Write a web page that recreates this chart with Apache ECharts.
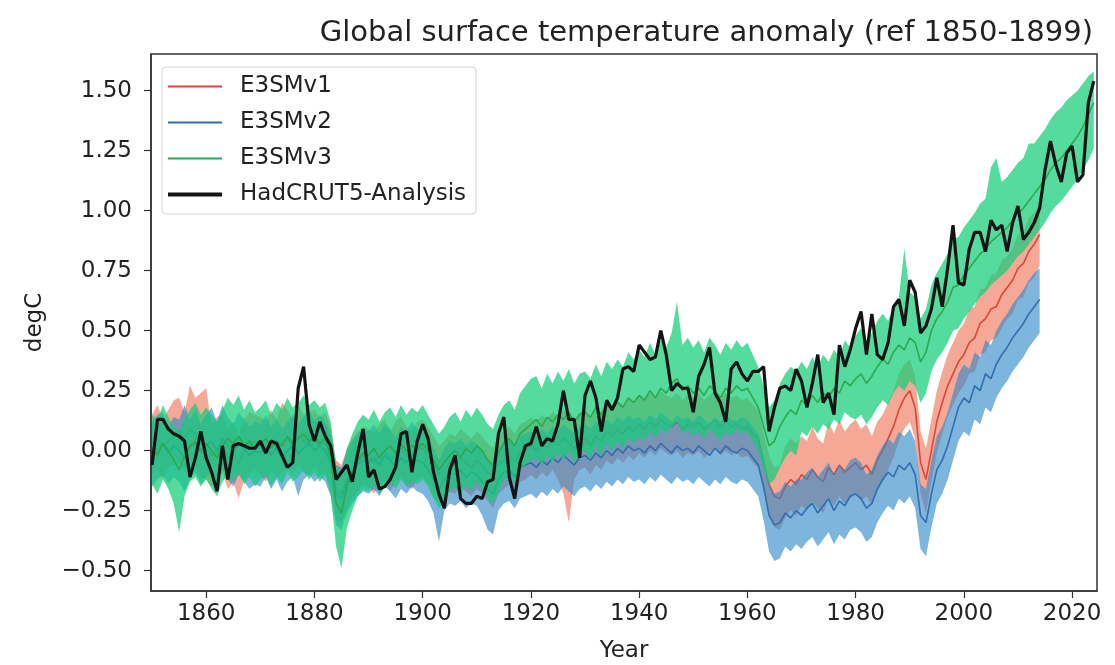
<!DOCTYPE html>
<html>
<head>
<meta charset="utf-8">
<title>Global surface temperature anomaly</title>
<script src="https://cdn.jsdelivr.net/npm/echarts@6/dist/echarts.min.js"></script>
<style>
  html, body { margin: 0; padding: 0; background: #fff; }
  #chart { width: 1115px; height: 665px; }
</style>
</head>
<body>
<div id="chart"></div>
<script>
// Annual global-mean surface temperature anomalies (degC, relative to 1850-1899).
const FIRST_YEAR = 1850;

// HadCRUT5-Analysis, 1850-2024
const hadcrut5 = [
  -0.06, 0.13, 0.13, 0.09, 0.07, 0.06, 0.04, -0.11, -0.03, 0.08,
  -0.03, -0.09, -0.17, 0.02, -0.12, 0.02, 0.03, 0.02, 0.01, 0.01,
  0.04, -0.01, 0.04, 0.03, -0.02, -0.07, -0.05, 0.26, 0.35, 0.11,
  0.04, 0.12, 0.06, 0.02, -0.12, -0.09, -0.06, -0.13, -0.01, 0.09,
  -0.11, -0.08, -0.16, -0.15, -0.12, -0.07, 0.07, 0.08, -0.09, 0.04,
  0.11, 0.05, -0.09, -0.18, -0.24, -0.08, -0.02, -0.20, -0.22, -0.22,
  -0.19, -0.20, -0.13, -0.12, 0.07, 0.14, -0.11, -0.20, -0.05, 0.02,
  0.03, 0.10, 0.02, 0.05, 0.04, 0.11, 0.25, 0.13, 0.13, -0.03,
  0.23, 0.29, 0.22, 0.08, 0.21, 0.17, 0.22, 0.34, 0.35, 0.33,
  0.44, 0.41, 0.38, 0.39, 0.50, 0.40, 0.25, 0.28, 0.26, 0.26,
  0.16, 0.31, 0.36, 0.43, 0.24, 0.20, 0.12, 0.34, 0.37, 0.32,
  0.29, 0.33, 0.33, 0.35, 0.08, 0.18, 0.26, 0.27, 0.25, 0.34,
  0.29, 0.18, 0.28, 0.40, 0.20, 0.24, 0.15, 0.44, 0.35, 0.42,
  0.51, 0.58, 0.40, 0.57, 0.40, 0.38, 0.45, 0.60, 0.63, 0.52,
  0.71, 0.66, 0.49, 0.52, 0.59, 0.72, 0.60, 0.76, 0.94, 0.70,
  0.69, 0.84, 0.91, 0.91, 0.83, 0.96, 0.92, 0.94, 0.83, 0.95,
  1.02, 0.88, 0.91, 0.95, 1.01, 1.17, 1.29, 1.19, 1.12, 1.24,
  1.27, 1.12, 1.15, 1.45, 1.54
];

// E3SMv1 ensemble mean and range, 1850-2014
const v1Mean = [
  0.03, 0.05, 0.02, 0.04, 0.06, 0.08, 0.05, 0.09, 0.07, 0.03,
  0.01, -0.02, 0.00, 0.03, -0.03, -0.01, -0.06, 0.00, 0.02, 0.04,
  0.02, 0.00, 0.04, 0.01, 0.03, 0.05, 0.02, 0.06, 0.04, 0.03,
  0.05, 0.02, 0.04, -0.02, -0.16, -0.18, -0.12, -0.08, -0.05, -0.02,
  -0.03, -0.05, -0.02, 0.00, -0.04, -0.01, 0.01, -0.02, -0.04, 0.00,
  0.01, -0.02, -0.06, -0.10, -0.08, -0.05, -0.06, -0.03, -0.05, -0.07,
  -0.04, -0.06, -0.09, -0.11, -0.06, -0.04, -0.02, -0.05, -0.01, 0.00,
  0.02, 0.00, 0.03, 0.01, 0.04, 0.02, 0.05, 0.03, 0.01, 0.04,
  0.05, 0.02, 0.06, 0.04, 0.08, 0.06, 0.09, 0.07, 0.10, 0.08,
  0.11, 0.09, 0.12, 0.10, 0.13, 0.11, 0.10, 0.12, 0.09, 0.11,
  0.10, 0.12, 0.09, 0.11, 0.13, 0.10, 0.12, 0.10, 0.11, 0.09,
  0.10, 0.07, 0.05, -0.05, -0.14, -0.19, -0.20, -0.15, -0.12, -0.14,
  -0.10, -0.12, -0.08, -0.11, -0.13, -0.07, -0.10, -0.06, -0.09, -0.07,
  -0.05, -0.08, -0.06, -0.10, -0.04, 0.00, 0.05, 0.10, 0.17, 0.22,
  0.25, 0.18, -0.05, -0.12, 0.00, 0.12, 0.20, 0.27, 0.32, 0.37,
  0.40, 0.45, 0.47, 0.53, 0.55, 0.59, 0.60, 0.65, 0.68, 0.71,
  0.76, 0.78, 0.83, 0.86, 0.90
];
const v1Lo = [
  -0.10, -0.08, -0.12, -0.07, -0.06, -0.05, -0.09, -0.04, -0.07, -0.11,
  -0.12, -0.15, -0.13, -0.09, -0.16, -0.13, -0.20, -0.12, -0.10, -0.08,
  -0.10, -0.13, -0.08, -0.11, -0.09, -0.07, -0.10, -0.06, -0.09, -0.10,
  -0.07, -0.10, -0.09, -0.14, -0.29, -0.30, -0.24, -0.20, -0.17, -0.14,
  -0.15, -0.18, -0.14, -0.12, -0.17, -0.13, -0.11, -0.15, -0.16, -0.12,
  -0.11, -0.14, -0.19, -0.22, -0.20, -0.17, -0.18, -0.15, -0.17, -0.19,
  -0.16, -0.18, -0.21, -0.24, -0.18, -0.16, -0.14, -0.17, -0.13, -0.12,
  -0.10, -0.12, -0.09, -0.11, -0.08, -0.12, -0.18, -0.30, -0.12, -0.08,
  -0.07, -0.10, -0.06, -0.08, -0.04, -0.06, -0.03, -0.05, -0.02, -0.04,
  -0.01, -0.03, 0.00, -0.02, 0.01, -0.01, -0.02, 0.00, -0.03, -0.01,
  -0.02, 0.00, -0.03, -0.01, 0.01, -0.02, 0.00, -0.02, -0.01, -0.03,
  -0.02, -0.05, -0.07, -0.17, -0.27, -0.32, -0.33, -0.28, -0.25, -0.27,
  -0.23, -0.25, -0.21, -0.24, -0.26, -0.20, -0.23, -0.19, -0.22, -0.20,
  -0.18, -0.21, -0.19, -0.23, -0.17, -0.13, -0.08, -0.03, 0.04, 0.09,
  0.12, 0.05, -0.18, -0.26, -0.13, -0.01, 0.07, 0.14, 0.19, 0.24,
  0.27, 0.32, 0.33, 0.40, 0.41, 0.46, 0.47, 0.51, 0.55, 0.57,
  0.63, 0.64, 0.70, 0.72, 0.77
];
const v1Hi = [
  0.15, 0.19, 0.13, 0.17, 0.21, 0.22, 0.16, 0.27, 0.22, 0.24,
  0.26, 0.10, 0.14, 0.15, 0.09, 0.12, 0.06, 0.13, 0.16, 0.15,
  0.14, 0.12, 0.17, 0.13, 0.20, 0.17, 0.13, 0.19, 0.15, 0.16,
  0.17, 0.14, 0.16, 0.10, -0.04, -0.06, 0.01, 0.05, 0.08, 0.10,
  0.09, 0.07, 0.11, 0.13, 0.08, 0.12, 0.14, 0.10, 0.08, 0.12,
  0.13, 0.10, 0.06, 0.02, 0.04, 0.07, 0.06, 0.09, 0.07, 0.05,
  0.08, 0.06, 0.03, 0.01, 0.06, 0.08, 0.10, 0.07, 0.11, 0.12,
  0.14, 0.12, 0.15, 0.13, 0.16, 0.14, 0.17, 0.15, 0.13, 0.16,
  0.17, 0.14, 0.18, 0.16, 0.20, 0.18, 0.21, 0.19, 0.22, 0.20,
  0.23, 0.21, 0.24, 0.22, 0.25, 0.23, 0.22, 0.24, 0.21, 0.23,
  0.22, 0.24, 0.21, 0.23, 0.25, 0.22, 0.24, 0.22, 0.23, 0.21,
  0.22, 0.19, 0.17, 0.07, -0.02, -0.07, -0.06, 0.02, 0.05, 0.03,
  0.06, 0.04, 0.10, 0.05, 0.03, 0.12, 0.07, 0.13, 0.08, 0.11,
  0.13, 0.09, 0.11, 0.06, 0.12, 0.15, 0.20, 0.25, 0.32, 0.36,
  0.38, 0.31, 0.08, 0.01, 0.13, 0.25, 0.33, 0.40, 0.45, 0.50,
  0.53, 0.59, 0.60, 0.67, 0.68, 0.73, 0.74, 0.79, 0.81, 0.84,
  0.90, 0.91, 0.97, 0.99, 1.03
];

// E3SMv2 ensemble mean and range, 1850-2014
const v2Mean = [
  -0.02, 0.00, 0.03, -0.01, 0.02, 0.00, -0.03, 0.01, 0.03, -0.01,
  0.02, 0.04, 0.00, 0.05, 0.02, -0.01, 0.03, 0.01, -0.02, 0.00,
  -0.01, 0.02, -0.02, 0.01, -0.03, 0.00, 0.02, -0.01, 0.01, 0.03,
  0.00, 0.02, 0.00, -0.05, -0.18, -0.20, -0.13, -0.09, -0.06, -0.04,
  -0.05, -0.03, -0.06, -0.02, -0.04, -0.07, -0.03, -0.05, -0.02, -0.04,
  -0.05, -0.08, -0.12, -0.16, -0.12, -0.09, -0.10, -0.08, -0.11, -0.09,
  -0.10, -0.13, -0.16, -0.18, -0.12, -0.09, -0.08, -0.11, -0.07, -0.06,
  -0.05, -0.07, -0.04, -0.06, -0.03, -0.05, -0.02, -0.04, -0.06, -0.03,
  -0.02, -0.04, -0.01, -0.03, 0.00, -0.02, 0.01, -0.01, 0.02, 0.00,
  0.01, -0.01, 0.02, 0.00, 0.03, 0.01, -0.01, 0.02, 0.00, 0.01,
  -0.01, 0.02, 0.00, -0.02, 0.01, -0.01, 0.02, 0.00, -0.01, 0.01,
  0.00, -0.03, -0.06, -0.15, -0.27, -0.31, -0.30, -0.26, -0.28, -0.25,
  -0.27, -0.24, -0.22, -0.26, -0.23, -0.20, -0.25, -0.21, -0.23, -0.19,
  -0.18, -0.20, -0.24, -0.22, -0.16, -0.12, -0.09, -0.11, -0.06, -0.08,
  -0.05, -0.10, -0.27, -0.30, -0.18, -0.08, -0.04, 0.02, 0.10, 0.18,
  0.22, 0.20, 0.27, 0.25, 0.32, 0.30, 0.36, 0.40, 0.43, 0.47,
  0.50, 0.53, 0.57, 0.60, 0.63
];
const v2Lo = [
  -0.15, -0.12, -0.10, -0.14, -0.11, -0.13, -0.17, -0.12, -0.09, -0.14,
  -0.11, -0.09, -0.14, -0.08, -0.12, -0.15, -0.10, -0.13, -0.16, -0.14,
  -0.15, -0.11, -0.16, -0.12, -0.17, -0.13, -0.11, -0.19, -0.12, -0.10,
  -0.13, -0.11, -0.13, -0.19, -0.31, -0.33, -0.26, -0.22, -0.19, -0.17,
  -0.18, -0.16, -0.19, -0.15, -0.17, -0.20, -0.16, -0.18, -0.15, -0.17,
  -0.18, -0.21, -0.26, -0.38, -0.25, -0.22, -0.23, -0.21, -0.24, -0.22,
  -0.23, -0.27, -0.33, -0.35, -0.25, -0.22, -0.21, -0.24, -0.20, -0.19,
  -0.18, -0.20, -0.17, -0.19, -0.16, -0.18, -0.15, -0.17, -0.19, -0.16,
  -0.15, -0.17, -0.14, -0.16, -0.13, -0.15, -0.12, -0.14, -0.11, -0.13,
  -0.12, -0.14, -0.11, -0.13, -0.10, -0.12, -0.14, -0.11, -0.13, -0.12,
  -0.14, -0.11, -0.13, -0.15, -0.12, -0.14, -0.11, -0.13, -0.14, -0.12,
  -0.13, -0.16, -0.19, -0.29, -0.42, -0.46, -0.45, -0.40, -0.42, -0.39,
  -0.41, -0.38, -0.36, -0.40, -0.37, -0.34, -0.39, -0.35, -0.37, -0.33,
  -0.32, -0.34, -0.38, -0.36, -0.30, -0.26, -0.23, -0.25, -0.20, -0.22,
  -0.19, -0.24, -0.41, -0.44, -0.32, -0.22, -0.18, -0.12, -0.04, 0.04,
  0.08, 0.06, 0.13, 0.11, 0.18, 0.16, 0.22, 0.26, 0.29, 0.33,
  0.36, 0.39, 0.43, 0.46, 0.49
];
const v2Hi = [
  0.12, 0.15, 0.16, 0.10, 0.14, 0.13, 0.19, 0.13, 0.17, 0.11,
  0.15, 0.18, 0.12, 0.19, 0.14, 0.11, 0.16, 0.13, 0.10, 0.12,
  0.11, 0.15, 0.10, 0.13, 0.09, 0.12, 0.15, 0.11, 0.14, 0.17,
  0.12, 0.15, 0.12, 0.07, -0.06, -0.07, 0.00, 0.04, 0.07, 0.09,
  0.08, 0.11, 0.07, 0.11, 0.09, 0.05, 0.10, 0.08, 0.12, 0.09,
  0.08, 0.05, 0.01, -0.04, 0.01, 0.04, 0.03, 0.05, 0.02, 0.04,
  0.03, 0.00, -0.04, -0.06, 0.01, 0.04, 0.05, 0.02, 0.06, 0.07,
  0.08, 0.06, 0.09, 0.07, 0.10, 0.08, 0.11, 0.09, 0.07, 0.10,
  0.11, 0.09, 0.12, 0.10, 0.13, 0.11, 0.14, 0.12, 0.15, 0.13,
  0.14, 0.12, 0.15, 0.13, 0.16, 0.14, 0.12, 0.15, 0.13, 0.14,
  0.12, 0.15, 0.13, 0.11, 0.14, 0.12, 0.15, 0.13, 0.12, 0.14,
  0.13, 0.10, 0.07, -0.02, -0.14, -0.18, -0.17, -0.13, -0.15, -0.12,
  -0.12, -0.09, -0.07, -0.11, -0.08, -0.05, -0.10, -0.06, -0.08, -0.04,
  -0.03, -0.05, -0.10, -0.08, -0.02, 0.02, 0.05, 0.03, 0.08, 0.06,
  0.09, 0.04, -0.14, -0.16, -0.04, 0.06, 0.10, 0.16, 0.24, 0.32,
  0.36, 0.34, 0.41, 0.39, 0.46, 0.44, 0.50, 0.54, 0.57, 0.61,
  0.64, 0.67, 0.71, 0.74, 0.76
];

// E3SMv3 ensemble mean and range, 1850-2024
const v3Mean = [
  0.01, -0.02, 0.03, 0.00, -0.04, -0.08, -0.02, 0.02, 0.04, 0.00,
  0.03, 0.00, -0.03, 0.02, 0.05, 0.03, 0.06, 0.02, 0.04, 0.01,
  0.03, 0.05, 0.01, 0.04, 0.02, 0.06, 0.03, 0.05, 0.07, 0.04,
  0.06, 0.03, 0.05, -0.03, -0.22, -0.26, -0.15, -0.09, -0.04, -0.01,
  -0.02, 0.01, -0.03, 0.00, 0.02, -0.01, 0.03, 0.00, 0.02, 0.01,
  0.03, 0.00, -0.04, -0.08, -0.05, -0.02, 0.00, -0.03, 0.01, -0.01,
  0.02, 0.00, -0.04, -0.06, -0.01, 0.03, 0.05, 0.02, 0.07, 0.09,
  0.11, 0.13, 0.10, 0.14, 0.12, 0.15, 0.13, 0.16, 0.12, 0.15,
  0.16, 0.14, 0.18, 0.15, 0.19, 0.17, 0.20, 0.18, 0.22, 0.20,
  0.23, 0.21, 0.25, 0.22, 0.26, 0.24, 0.28, 0.30, 0.25, 0.27,
  0.24, 0.26, 0.23, 0.27, 0.25, 0.22, 0.26, 0.24, 0.27, 0.25,
  0.26, 0.22, 0.18, 0.10, 0.02, 0.04, 0.10, 0.14, 0.17, 0.15,
  0.21, 0.19, 0.23, 0.20, 0.24, 0.22, 0.26, 0.24, 0.29, 0.27,
  0.30, 0.32, 0.28, 0.31, 0.35, 0.38, 0.36, 0.41, 0.44, 0.42,
  0.47, 0.45, 0.37, 0.41, 0.50, 0.55, 0.58, 0.62, 0.68, 0.69,
  0.73, 0.76, 0.79, 0.82, 0.84, 0.87, 0.89, 0.91, 0.93, 0.96,
  0.99, 1.01, 1.04, 1.07, 1.10, 1.13, 1.17, 1.20, 1.22, 1.25,
  1.28, 1.31, 1.35, 1.40, 1.45
];
const v3Lo = [
  -0.14, -0.18, -0.12, -0.16, -0.22, -0.34, -0.19, -0.13, -0.11, -0.15,
  -0.12, -0.16, -0.19, -0.13, -0.10, -0.13, -0.09, -0.14, -0.11, -0.15,
  -0.12, -0.10, -0.15, -0.11, -0.14, -0.09, -0.13, -0.11, -0.08, -0.12,
  -0.09, -0.13, -0.10, -0.18, -0.40, -0.49, -0.32, -0.25, -0.19, -0.16,
  -0.17, -0.14, -0.18, -0.15, -0.13, -0.16, -0.12, -0.15, -0.13, -0.14,
  -0.12, -0.15, -0.20, -0.24, -0.21, -0.17, -0.15, -0.19, -0.14, -0.17,
  -0.13, -0.16, -0.20, -0.22, -0.17, -0.12, -0.10, -0.14, -0.08, -0.06,
  -0.04, -0.03, -0.06, -0.02, -0.05, -0.01, -0.04, 0.00, -0.05, -0.01,
  0.00, -0.03, 0.02, -0.02, 0.03, 0.00, 0.04, 0.01, 0.05, 0.03,
  0.06, 0.04, 0.08, 0.05, 0.09, 0.07, 0.10, 0.12, 0.07, 0.09,
  0.06, 0.08, 0.05, 0.09, 0.07, 0.04, 0.08, 0.06, 0.09, 0.07,
  0.08, 0.04, 0.00, -0.08, -0.14, -0.12, -0.07, -0.03, 0.00, -0.02,
  0.08, 0.06, 0.10, 0.07, 0.11, 0.09, 0.13, 0.11, 0.16, 0.14,
  0.13, 0.15, 0.11, 0.14, 0.18, 0.21, 0.19, 0.24, 0.27, 0.25,
  0.29, 0.27, 0.20, 0.24, 0.33, 0.38, 0.41, 0.45, 0.50, 0.51,
  0.55, 0.58, 0.61, 0.64, 0.66, 0.69, 0.71, 0.73, 0.75, 0.78,
  0.81, 0.83, 0.86, 0.89, 0.92, 0.95, 0.99, 1.02, 1.04, 1.07,
  1.10, 1.13, 1.17, 1.21, 1.26
];
const v3Hi = [
  0.15, 0.13, 0.19, 0.14, 0.10, 0.08, 0.13, 0.17, 0.20, 0.15,
  0.18, 0.15, 0.12, 0.17, 0.22, 0.19, 0.23, 0.17, 0.21, 0.16,
  0.18, 0.21, 0.15, 0.20, 0.17, 0.22, 0.18, 0.20, 0.23, 0.19,
  0.21, 0.18, 0.20, 0.12, -0.06, -0.10, 0.01, 0.07, 0.12, 0.15,
  0.13, 0.17, 0.12, 0.16, 0.18, 0.14, 0.19, 0.15, 0.18, 0.16,
  0.19, 0.15, 0.11, 0.07, 0.10, 0.14, 0.16, 0.12, 0.17, 0.14,
  0.18, 0.15, 0.11, 0.09, 0.15, 0.19, 0.21, 0.17, 0.24, 0.27,
  0.30, 0.31, 0.26, 0.32, 0.28, 0.33, 0.29, 0.34, 0.28, 0.32,
  0.33, 0.30, 0.36, 0.31, 0.37, 0.34, 0.38, 0.35, 0.41, 0.38,
  0.42, 0.39, 0.45, 0.40, 0.46, 0.43, 0.49, 0.62, 0.44, 0.47,
  0.43, 0.46, 0.41, 0.47, 0.44, 0.40, 0.45, 0.42, 0.46, 0.43,
  0.45, 0.40, 0.35, 0.27, 0.18, 0.21, 0.28, 0.32, 0.35, 0.33,
  0.37, 0.34, 0.39, 0.35, 0.40, 0.37, 0.42, 0.39, 0.46, 0.43,
  0.48, 0.51, 0.46, 0.49, 0.54, 0.57, 0.54, 0.60, 0.64, 0.84,
  0.66, 0.64, 0.55, 0.59, 0.69, 0.74, 0.78, 0.82, 0.88, 0.89,
  0.93, 0.96, 0.99, 1.03, 1.05, 1.18, 1.22, 1.12, 1.14, 1.17,
  1.20, 1.22, 1.28, 1.28, 1.31, 1.34, 1.38, 1.41, 1.43, 1.46,
  1.48, 1.50, 1.53, 1.56, 1.58
];

const yTicks = [-0.5, -0.25, 0, 0.25, 0.5, 0.75, 1.0, 1.25, 1.5];
const xTicks = [1860, 1880, 1900, 1920, 1940, 1960, 1980, 2000, 2020];

const FONT = 'DejaVu Sans';

function pairs(values) {
  return values.map((v, i) => [FIRST_YEAR + i, v]);
}

// Shaded ensemble range drawn as a single polygon through the axis scales.
function bandSeries(id, lo, hi, fill, z) {
  return {
    type: 'custom',
    id: id,
    silent: true,
    z: z,
    encode: { x: 0, y: [1, 2] },
    data: lo.map((v, i) => [FIRST_YEAR + i, v, hi[i]]),
    renderItem: function (params, api) {
      if (params.dataIndex !== 0) return null;
      const upper = hi.map((v, i) => api.coord([FIRST_YEAR + i, v]));
      const lower = lo.map((v, i) => api.coord([FIRST_YEAR + i, v])).reverse();
      return {
        type: 'polygon',
        shape: { points: upper.concat(lower) },
        style: { fill: fill, stroke: null }
      };
    }
  };
}

function lineSeries(name, values, color, width, z) {
  return {
    type: 'line',
    name: name,
    data: pairs(values),
    showSymbol: false,
    symbol: 'none',
    z: z,
    color: color,
    lineStyle: { color: color, width: width },
    emphasis: { disabled: true },
    animation: false
  };
}

// Legend handles: zero-area end points fix the icon box, the bar sets the stroke thickness.
const thinHandle = 'path://M0,0L0.01,0M0,4.1H54V5.9H0ZM0,10L0.01,10';
const thickHandle = 'path://M0,0L0.01,0M0,3H54V7H0ZM0,10L0.01,10';

const chart = echarts.init(document.getElementById('chart'), null, { renderer: 'canvas' });

chart.setOption({
  animation: false,
  backgroundColor: '#ffffff',
  textStyle: { fontFamily: FONT },
  title: {
    text: 'Global surface temperature anomaly (ref 1850-1899)',
    right: 17,
    top: 14,
    textStyle: { fontFamily: FONT, fontSize: 29, fontWeight: 'normal', color: '#222' }
  },
  grid: {
    left: 151, right: 18, top: 54, bottom: 74,
    outerBoundsMode: 'none',
    containLabel: false,
    show: true, borderColor: '#333', borderWidth: 1.5, backgroundColor: 'transparent'
  },
  legend: {
    orient: 'vertical',
    left: 162,
    top: 67,
    padding: [8, 10, 8, 6],
    itemGap: 13,
    itemWidth: 54,
    itemHeight: 10,
    backgroundColor: 'rgba(255,255,255,0.85)',
    borderColor: '#d4d4d4',
    borderWidth: 1,
    borderRadius: 4,
    itemStyle: { borderWidth: 0 },
    textStyle: { fontFamily: FONT, fontSize: 23, color: '#222', padding: [0, 0, 0, 13] },
    selectedMode: false,
    data: [
      { name: 'E3SMv1', icon: thinHandle },
      { name: 'E3SMv2', icon: thinHandle },
      { name: 'E3SMv3', icon: thinHandle },
      { name: 'HadCRUT5-Analysis', icon: thickHandle }
    ]
  },
  xAxis: {
    type: 'value',
    min: 1849.8,
    max: 2024.6,
    name: 'Year',
    nameLocation: 'middle',
    nameGap: 49,
    nameTextStyle: { fontFamily: FONT, fontSize: 23, color: '#222' },
    axisLine: { show: true, onZero: false, lineStyle: { color: '#333', width: 1.5 } },
    axisTick: { show: true, inside: false, length: 7, customValues: xTicks, lineStyle: { color: '#333', width: 1.2 } },
    axisLabel: {
      customValues: xTicks, margin: 12,
      fontFamily: FONT, fontSize: 23, color: '#222',
      formatter: v => String(v)
    },
    splitLine: { show: false }
  },
  yAxis: {
    type: 'value',
    min: -0.585,
    max: 1.653,
    name: 'degC',
    nameLocation: 'middle',
    nameRotate: 90,
    nameGap: 104,
    nameTextStyle: { fontFamily: FONT, fontSize: 23, color: '#222' },
    axisLine: { show: true, onZero: false, lineStyle: { color: '#333', width: 1.5 } },
    axisTick: { show: true, inside: false, length: 7, customValues: yTicks, lineStyle: { color: '#333', width: 1.2 } },
    axisLabel: {
      customValues: yTicks, margin: 19,
      fontFamily: FONT, fontSize: 23, color: '#222',
      formatter: v => (v < 0 ? '\u2212' : '') + Math.abs(v).toFixed(2)
    },
    splitLine: { show: false }
  },
  series: [
    bandSeries('E3SMv1 range', v1Lo, v1Hi, 'rgba(240,110,80,0.6)', 1),
    lineSeries('E3SMv1', v1Mean, '#d8473a', 1.6, 2),
    bandSeries('E3SMv2 range', v2Lo, v2Hi, 'rgba(45,135,200,0.62)', 3),
    lineSeries('E3SMv2', v2Mean, '#2f6fae', 1.6, 4),
    bandSeries('E3SMv3 range', v3Lo, v3Hi, 'rgba(20,205,120,0.72)', 5),
    lineSeries('E3SMv3', v3Mean, '#2da84e', 1.6, 6),
    lineSeries('HadCRUT5-Analysis', hadcrut5, '#141414', 3.2, 7)
  ]
});
</script>
</body>
</html>
